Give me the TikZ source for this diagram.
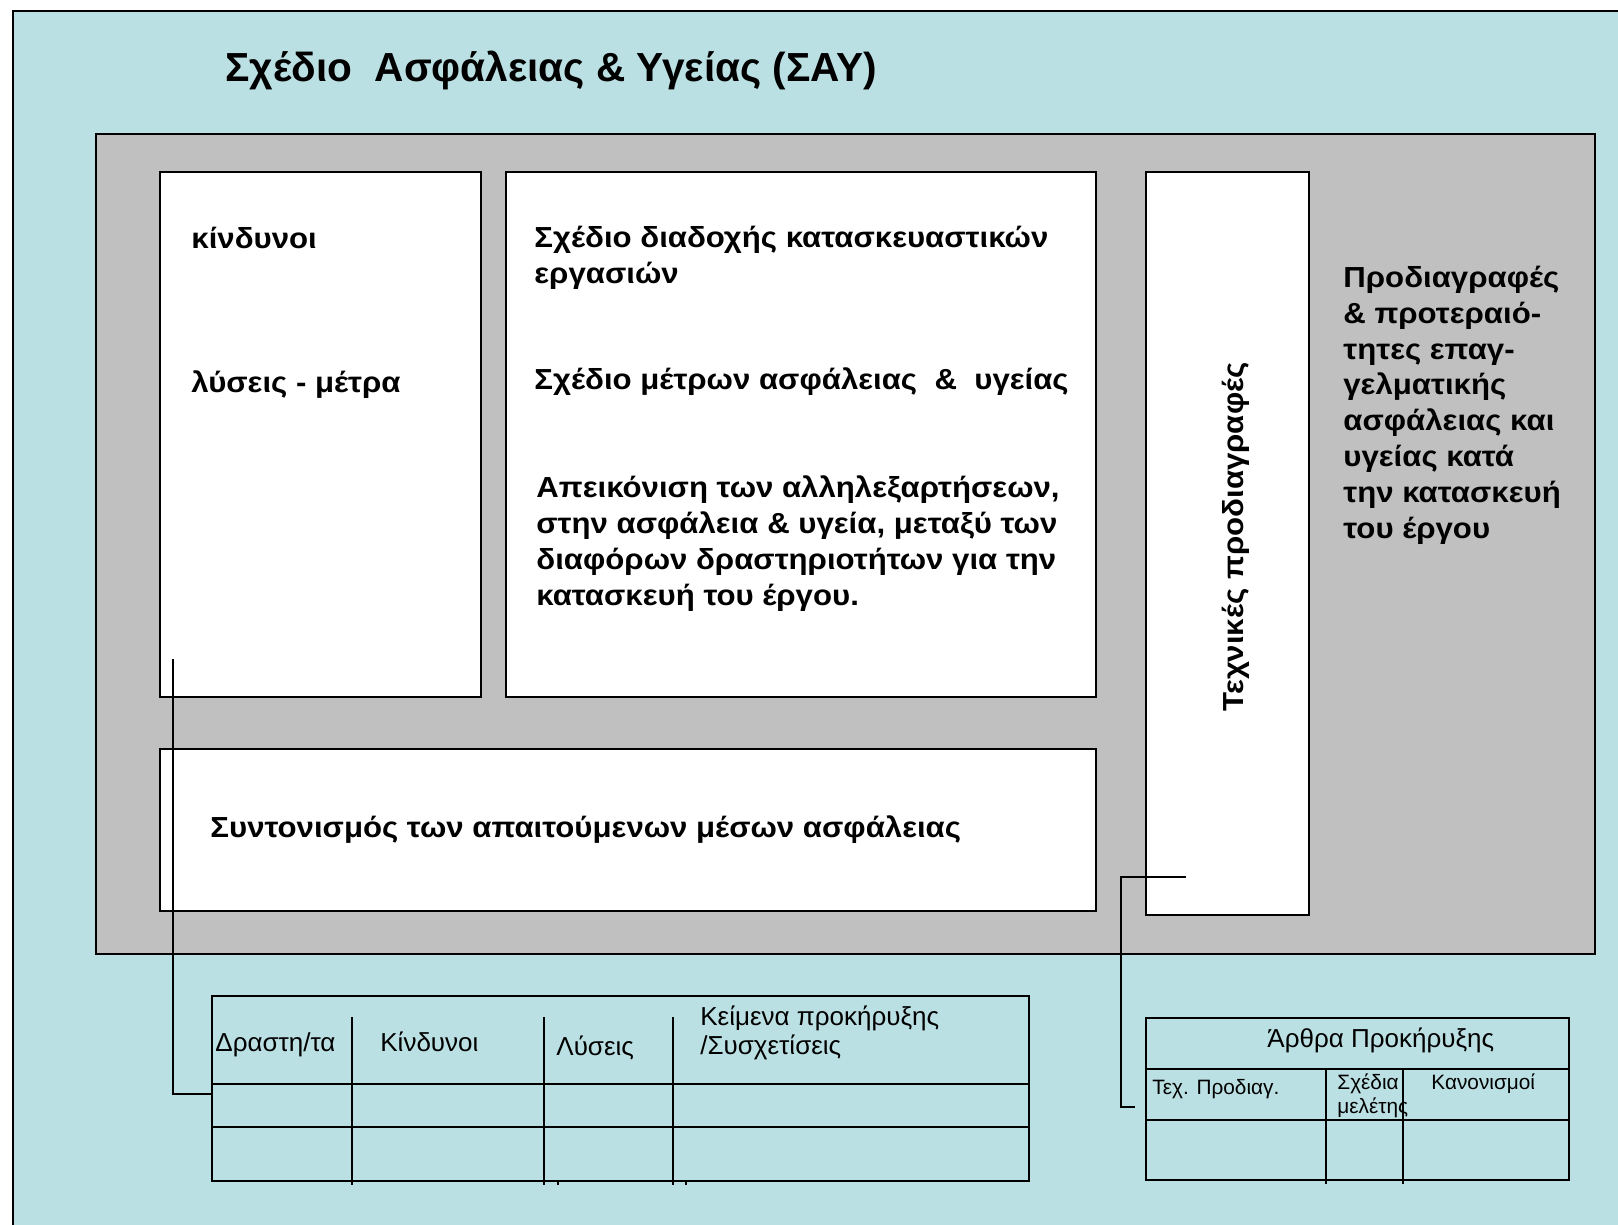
\documentclass[tikz,border=0pt]{standalone}
\usepackage{fontspec}
\setmainfont{Liberation Sans}
\newfontfamily\widefont[FakeStretch=1.075]{Liberation Sans}
\definecolor{bgcyan}{RGB}{187,224,227}
\definecolor{panelgray}{RGB}{192,192,192}
\tikzset{
  pxbox/.style n args={2}{draw=black, line width=1pt, inner sep=0pt, outer sep=0pt, anchor=north west, minimum width=#1*0.5pt, minimum height=#2*0.5pt},
  bodytxt/.style={font=\widefont\fontsize{14.5}{18}\selectfont\bfseries, inner sep=0pt, align=left},
  titletxt/.style={font=\fontsize{20.3}{24}\selectfont\bfseries, inner sep=0pt},
  tabtxt/.style={font=\fontsize{13}{14.5}\selectfont, inner sep=0pt, align=left},
  hdrtxt/.style={font=\fontsize{13}{15}\selectfont, inner sep=0pt},
  smalltxt/.style={font=\fontsize{10.4}{12}\selectfont, inner sep=0pt, align=left},
  conn/.style={draw=black, line width=1pt},
  gridline/.style={draw=black, line width=1pt},
}
\begin{document}
\begin{tikzpicture}[x=0.5pt,y=-0.5pt]
\useasboundingbox (0,0) rectangle (1618,1225);
% background
\fill[bgcyan] (13,11) rectangle (1618,1225);
\draw[line width=1.2pt] (13,1225) -- (13,11) -- (1618,11);
% title
\node[titletxt, anchor=base west] (title) at (225,82) {Σχέδιο~ Ασφάλειας \& Υγείας (ΣΑΥ)};
% gray panel
\node[pxbox={1499}{820}, fill=panelgray] (panel) at (96,134) {};
% boxes
\node[pxbox={321}{525}, fill=white] (hazbox) at (160,172) {};
\node[pxbox={590}{525}, fill=white] (planbox) at (506,172) {};
\node[pxbox={163}{743}, fill=white] (techbox) at (1146,172) {};
\node[pxbox={936}{162}, fill=white] (coordbox) at (160,749) {};
% texts in boxes
\node[bodytxt, anchor=base west] (t1) at (191,249) {κίνδυνοι};
\node[bodytxt, anchor=base west] (t2) at (191,393) {λύσεις - μέτρα};
\node[bodytxt, anchor=north west] (t3) at (534,222.3) {\strut Σχέδιο διαδοχής κατασκευαστικών\\εργασιών};
\node[bodytxt, anchor=base west] (t4) at (534,390) {Σχέδιο μέτρων ασφάλειας~ \&~ υγείας};
\node[bodytxt, anchor=north west] (t5) at (536,472.3) {\strut Απεικόνιση των αλληλεξαρτήσεων,\\στην ασφάλεια \& υγεία, μεταξύ των\\διαφόρων δραστηριοτήτων για την\\κατασκευή του έργου.};
\node[bodytxt, anchor=base west] (t6) at (210,837) {Συντονισμός των απαιτούμενων μέσων ασφάλειας};
\node[bodytxt, anchor=base, rotate=90] (t7) at (1243,537) {Τεχνικές προδιαγραφές};
\node[bodytxt, anchor=north west, font=\widefont\fontsize{14.5}{17.9}\selectfont\bfseries] (t8) at (1343,262) {\strut Προδιαγραφές\\\& προτεραιό-\\τητες επαγ-\\γελματικής\\ασφάλειας και\\υγείας κατά\\την κατασκευή\\του έργου};
% left table
\node[pxbox={817}{185}] (tabL) at (212,996) {};
\draw[gridline] (212,1084) -- (1029,1084);
\draw[gridline] (212,1127) -- (1029,1127);
\draw[gridline] (352,1017) -- (352,1185);
\draw[gridline] (544,1017) -- (544,1185);
\draw[gridline] (673,1017) -- (673,1185);
\draw[gridline] (558,1181) -- (558,1185);
\draw[gridline] (686,1181) -- (686,1185);
\node[tabtxt, anchor=base west] (l1) at (215,1051) {Δραστη/τα};
\node[tabtxt, anchor=base west] (l2) at (380,1051) {Κίνδυνοι};
\node[tabtxt, anchor=base west] (l3) at (556,1055) {Λύσεις};
\node[tabtxt, anchor=north west] (l4) at (700,1004.7) {\strut Κείμενα προκήρυξης\\/Συσχετίσεις};
% right table
\node[pxbox={423}{162}] (tabR) at (1146,1018) {};
\draw[gridline] (1146,1069) -- (1569,1069);
\draw[gridline] (1146,1120) -- (1569,1120);
\draw[gridline] (1326,1069) -- (1326,1184);
\draw[gridline] (1403,1069) -- (1403,1184);
\node[hdrtxt, anchor=base west] (r1) at (1267,1047) {Άρθρα Προκήρυξης};
\node[smalltxt, anchor=base west] (r2) at (1152,1094) {Τεχ. Προδιαγ.};
\node[smalltxt, anchor=north west] (r3) at (1337,1072) {\strut Σχέδια\\μελέτης};
\node[smalltxt, anchor=base west] (r4) at (1431,1089) {Κανονισμοί};
% connectors
\coordinate (lcstart) at (173,659);
\draw[conn] (lcstart) |- ([yshift=-2.75pt]tabL.west);
\coordinate (rcstart) at (1186,877);
\coordinate (rcbend) at (1121,877);
\draw[conn] (rcstart) -- (rcbend) |- ([xshift=-5.5pt,yshift=-4pt]tabR.west);
\end{tikzpicture}
\end{document}
